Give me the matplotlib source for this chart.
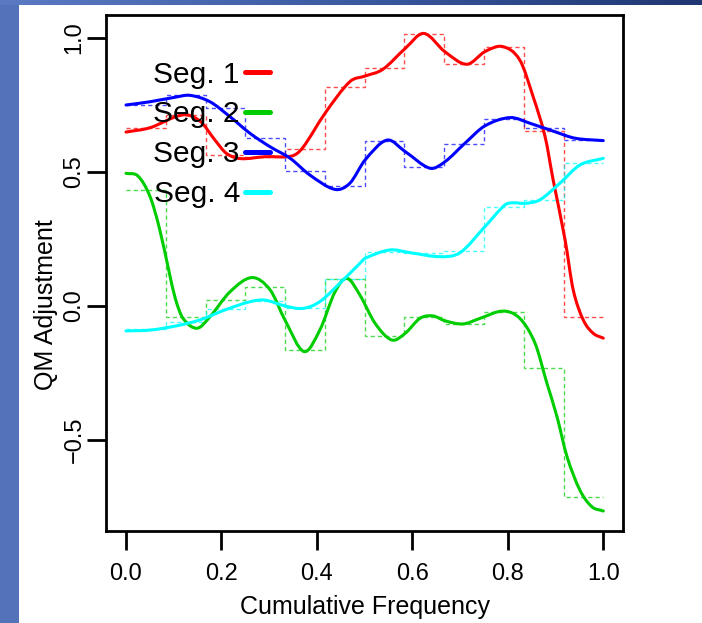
import numpy as np
import matplotlib
matplotlib.use('Agg')
import matplotlib.pyplot as plt
from matplotlib.path import Path
from matplotlib.patches import PathPatch, Rectangle
from matplotlib.colors import LinearSegmentedColormap

plt.rcParams['font.family'] = ['Liberation Sans', 'DejaVu Sans']

# ---------------- data ----------------
bin_edges = np.arange(13) / 12

seg_labels = ['Seg. 1', 'Seg. 2', 'Seg. 3', 'Seg. 4']
seg_colors = ['#ff0000', '#00cd00', '#0000ff', '#00ffff']

step1 = [0.663, 0.713, 0.563, 0.557, 0.585, 0.818, 0.887, 1.015, 0.903, 0.965, 0.653, -0.040]
step2 = [0.433, -0.042, 0.022, 0.072, -0.164, 0.100, -0.112, -0.042, -0.067, -0.021, -0.232, -0.711]
step3 = [0.750, 0.787, 0.738, 0.626, 0.504, 0.448, 0.617, 0.520, 0.603, 0.699, 0.665, 0.619]
step4 = [-0.087, -0.058, -0.012, 0.020, -0.009, 0.100, 0.203, 0.199, 0.206, 0.371, 0.396, 0.532]

curve1_x = [0, 0.05, 0.119, 0.155, 0.186, 0.21, 0.239, 0.291, 0.348, 0.37, 0.417, 0.469, 0.501,
            0.538, 0.585, 0.624, 0.668, 0.714, 0.752, 0.789, 0.825, 0.853, 0.878, 0.895, 0.92,
            0.937, 0.958, 0.979, 1.0]
curve1_y = [0.649, 0.665, 0.713, 0.69, 0.62, 0.57, 0.55, 0.557, 0.56, 0.59, 0.719, 0.837, 0.858,
            0.883, 0.961, 1.017, 0.949, 0.902, 0.949, 0.968, 0.918, 0.781, 0.632, 0.47, 0.246,
            0.06, -0.052, -0.102, -0.12]

curve2_x = [0, 0.025, 0.05, 0.07, 0.09, 0.103, 0.119, 0.149, 0.176, 0.218, 0.264, 0.302, 0.333,
            0.373, 0.406, 0.438, 0.463, 0.49, 0.522, 0.557, 0.585, 0.616, 0.643, 0.668, 0.706,
            0.742, 0.79, 0.825, 0.857, 0.882, 0.903, 0.924, 0.951, 0.976, 1.0]
curve2_y = [0.495, 0.485, 0.41, 0.29, 0.13, 0.03, -0.045, -0.083, -0.04, 0.053, 0.106, 0.06, -0.052,
            -0.17, -0.09, 0.053, 0.103, 0.041, -0.065, -0.127, -0.102, -0.046, -0.037, -0.055, -0.067,
            -0.046, -0.019, -0.046, -0.139, -0.289, -0.413, -0.562, -0.687, -0.749, -0.765]

curve3_x = [0, 0.05, 0.103, 0.134, 0.176, 0.218, 0.26, 0.302, 0.344, 0.385, 0.438, 0.469, 0.501,
            0.547, 0.585, 0.637, 0.668, 0.71, 0.752, 0.805, 0.846, 0.899, 0.941, 1.0]
curve3_y = [0.750, 0.762, 0.779, 0.786, 0.762, 0.706, 0.644, 0.594, 0.551, 0.489, 0.435, 0.458, 0.545,
            0.619, 0.576, 0.514, 0.538, 0.607, 0.672, 0.703, 0.682, 0.650, 0.626, 0.617]

curve4_x = [0, 0.05, 0.103, 0.155, 0.207, 0.26, 0.291, 0.333, 0.371, 0.406, 0.448, 0.49, 0.501,
            0.553, 0.595, 0.658, 0.7, 0.752, 0.794, 0.811, 0.836, 0.867, 0.909, 0.951, 1.0]
curve4_y = [-0.093, -0.09, -0.075, -0.052, -0.015, 0.016, 0.022, 0.0, -0.009, 0.016, 0.085, 0.159, 0.178,
            0.209, 0.199, 0.184, 0.199, 0.296, 0.377, 0.385, 0.383, 0.396, 0.458, 0.526, 0.551]

x_ticks = [0.0, 0.2, 0.4, 0.6, 0.8, 1.0]
y_ticks = [-0.5, 0.0, 0.5, 1.0]
x_label = 'Cumulative Frequency'
y_label = 'QM Adjustment'

steps = [step1, step2, step3, step4]
curves = [(curve1_x, curve1_y), (curve2_x, curve2_y), (curve3_x, curve3_y), (curve4_x, curve4_y)]


def smooth_path(xs, ys):
    """Cubic Hermite curve through the read points, drawn as Bezier segments."""
    xs = np.asarray(xs, float)
    ys = np.asarray(ys, float)
    n = len(xs)
    m = np.zeros(n)
    m[0] = (ys[1] - ys[0]) / (xs[1] - xs[0])
    m[-1] = (ys[-1] - ys[-2]) / (xs[-1] - xs[-2])
    for i in range(1, n - 1):
        m[i] = (ys[i + 1] - ys[i - 1]) / (xs[i + 1] - xs[i - 1])
    verts = [(xs[0], ys[0])]
    codes = [Path.MOVETO]
    for i in range(n - 1):
        h = xs[i + 1] - xs[i]
        verts += [(xs[i] + h / 3, ys[i] + m[i] * h / 3),
                  (xs[i + 1] - h / 3, ys[i + 1] - m[i + 1] * h / 3),
                  (xs[i + 1], ys[i + 1])]
        codes += [Path.CURVE4] * 3
    return Path(verts, codes)


# ---------------- figure ----------------
W, H = 702, 623
fig = plt.figure(figsize=(W / 100, H / 100), dpi=100)
fig.patch.set_facecolor('white')

# slide decoration: left strip and top gradient band
fig.add_artist(Rectangle((0, 0), 19 / W, 1, transform=fig.transFigure,
                         facecolor='#5472b9', edgecolor='none', zorder=0))
band = fig.add_axes([0, 1 - 5.5 / H, 1, 5.5 / H])
grad = np.linspace(0, 1, 256)[None, :]
cm = LinearSegmentedColormap.from_list('band', ['#5a7bc4', '#3b5aa0', '#1f3672'])
band.imshow(grad, aspect='auto', cmap=cm, extent=[0, 1, 0, 1])
band.axis('off')

ax = fig.add_axes([106 / W, 1 - 530.7 / H, (623 - 106) / W, (530.7 - 14.7) / H])
ax.set_xlim(-0.0419, 1.0413)
ax.set_ylim(-0.8385, 1.0869)

for vals, col in zip(steps, seg_colors):
    ax.stairs(vals, bin_edges, baseline=None, color=col, lw=1.0, alpha=0.7,
              linestyle=(0, (3, 2.2)), zorder=2)

for (cx, cy), col in zip(curves, seg_colors):
    patch = PathPatch(smooth_path(cx, cy), fill=False, edgecolor=col, lw=2.2,
                      capstyle='round', joinstyle='round', zorder=3)
    ax.add_patch(patch)

# legend: label then coloured line
centers = [0.8895, 0.812, 0.7345, 0.657]
for lab, col, yc in zip(seg_labels, seg_colors, centers):
    ax.text(0.259, yc - 0.0209, lab, transform=ax.transAxes, ha='right', va='baseline',
            fontsize=21.5, color='black', zorder=5)
    ax.plot([0.268, 0.318], [yc, yc], transform=ax.transAxes, color=col, lw=3.6,
            solid_capstyle='round', zorder=5)

for s in ax.spines.values():
    s.set_linewidth(2.0)
ax.set_xticks(x_ticks)
ax.set_xticklabels([f'{v:.1f}' for v in x_ticks])
ax.set_yticks(y_ticks)
ax.set_yticklabels([f'{v:.1f}'.replace('-', '\u2212') for v in y_ticks], rotation=90, va='center')
ax.tick_params(axis='both', length=13.7, width=2.0, labelsize=17, direction='out')
ax.tick_params(axis='x', pad=9.5)
ax.tick_params(axis='y', pad=1)

ax.set_xlabel(x_label, fontsize=18)
ax.xaxis.set_label_coords(0.5, -0.124)
ax.set_ylabel(y_label, fontsize=18)
ax.yaxis.set_label_coords(-0.093, 0.439)

fig.savefig('out.png', dpi=100)
